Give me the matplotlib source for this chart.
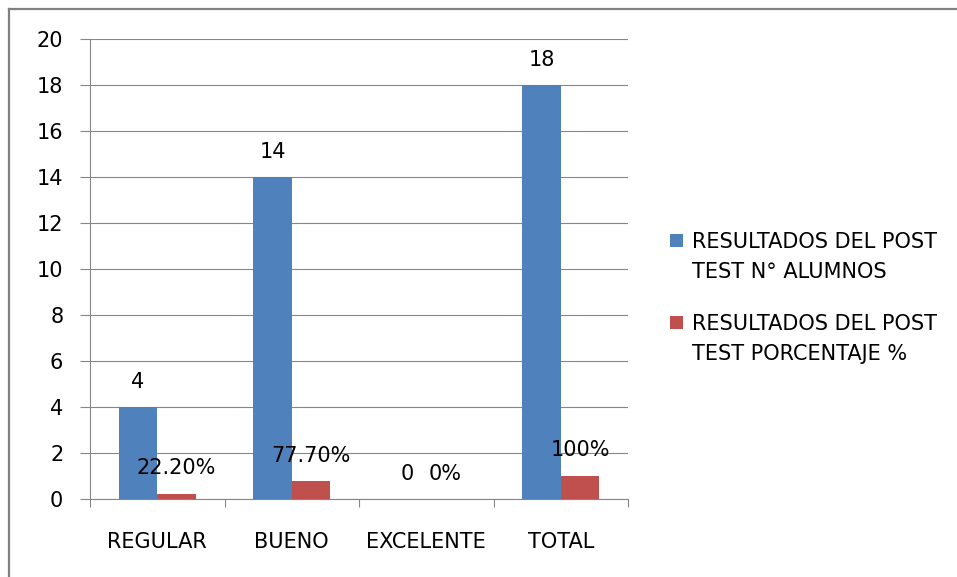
import numpy as np
import matplotlib
matplotlib.use("Agg")
import matplotlib.pyplot as plt
from matplotlib.patches import Rectangle
from matplotlib.lines import Line2D

# Chart data
categories = ["REGULAR", "BUENO", "EXCELENTE", "TOTAL"]
alumnos = [4, 14, 0, 18]
porcentaje = [0.222, 0.777, 0, 1]
alumnos_labels = ["4", "14", "0", "18"]
porcentaje_labels = ["22.20%", "77.70%", "0%", "100%"]
series_names = ["RESULTADOS DEL POST\nTEST N° ALUMNOS",
                "RESULTADOS DEL POST\nTEST PORCENTAJE %"]
yticks = [0, 2, 4, 6, 8, 10, 12, 14, 16, 18, 20]

BLUE = "#4F81BD"
RED = "#C0504D"
GRID = "#868686"
FS = 15

W, H = 957, 577
fig = plt.figure(figsize=(W / 100, H / 100), dpi=100)
plt.rcParams['font.family'] = ['DejaVu Sans']

# plot area in pixels: x 90..628, y 39..499
ax = fig.add_axes([90 / W, (H - 499) / H, (628 - 90) / W, (499 - 39) / H])

x = np.arange(len(categories))
bw = 1 / 3.5  # Excel gap width 150%
b1 = ax.bar(x - bw / 2, alumnos, bw, color=BLUE, zorder=3)
b2 = ax.bar(x + bw / 2, porcentaje, bw, color=RED, zorder=3)

# data labels, ~27 px above the bar top
for bars, labels in ((b1, alumnos_labels), (b2, porcentaje_labels)):
    for rect, lab in zip(bars, labels):
        ax.annotate(lab, (rect.get_x() + rect.get_width() / 2, rect.get_height()),
                    xytext=(0, 19.5), textcoords="offset pixels",
                    ha="center", va="baseline", fontsize=FS, color="black", zorder=4)

ax.set_xlim(-0.5, len(categories) - 0.5)
ax.set_ylim(0, 20)
ax.set_yticks(yticks)
ax.yaxis.grid(True, color=GRID, linewidth=0.8, zorder=0)
ax.tick_params(axis="y", length=7.2, width=0.8, color=GRID, pad=12, labelsize=FS)

# category boundaries as major ticks, labels on minor ticks
ax.set_xticks(np.arange(len(categories) + 1) - 0.5)
ax.set_xticklabels([])
ax.set_xticks(x, minor=True)
ax.set_xticklabels(categories, minor=True)
ax.tick_params(axis="x", which="major", length=6, width=0.8, color=GRID)
ax.tick_params(axis="x", which="minor", length=0, pad=23.5, labelsize=FS)

for s in ("top", "right"):
    ax.spines[s].set_visible(False)
for s in ("left", "bottom"):
    ax.spines[s].set_color(GRID)
    ax.spines[s].set_linewidth(0.8)

# legend drawn by hand so the swatch sits on the first line
for i, (name, col) in enumerate(zip(series_names, [BLUE, RED])):
    top = 234 + i * 82
    fig.add_artist(Rectangle((670 / W, (H - top - 13) / H), 13 / W, 13 / H,
                             transform=fig.transFigure, color=col, lw=0))
    fig.text(692 / W, (H - top + 2) / H, name, ha="left", va="top",
             fontsize=FS, linespacing=1.62)

# outer chart border (top and left visible)
fig.add_artist(Line2D([9 / W, 1], [(H - 9) / H] * 2, transform=fig.transFigure,
                      color="#808080", lw=1.6))
fig.add_artist(Line2D([9 / W] * 2, [0, (H - 9) / H], transform=fig.transFigure,
                      color="#808080", lw=1.6))

fig.savefig("out.png", dpi=100)
